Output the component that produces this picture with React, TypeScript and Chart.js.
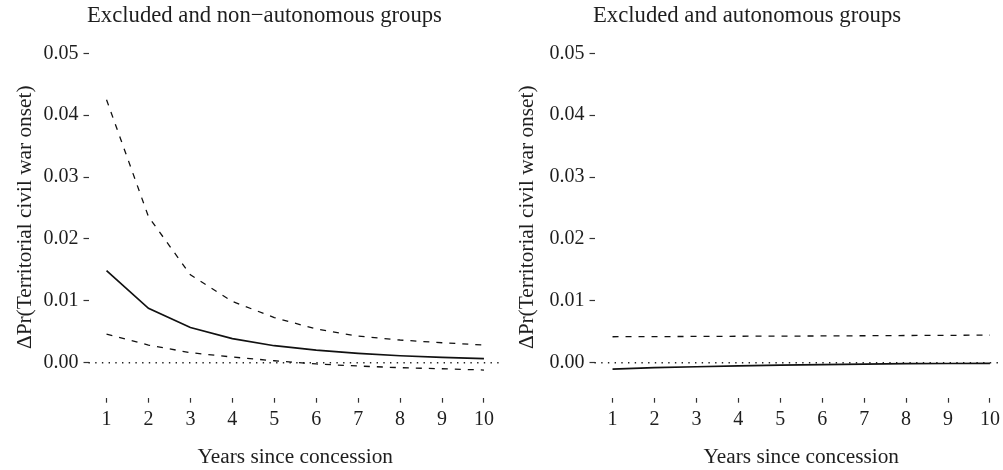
import React, { useEffect, useRef } from "react";
import { Chart, registerables } from "chart.js";

Chart.register(...registerables);

// ---- data ----
const YEARS = [1, 2, 3, 4, 5, 6, 7, 8, 9, 10];

const LEFT_TITLE = "Excluded and non\u2212autonomous groups";
const LEFT_EST = [0.0149, 0.0088, 0.0057, 0.0039, 0.00275, 0.00205, 0.00152, 0.00113, 0.00087, 0.00065];
const LEFT_UPPER = [0.0425, 0.0236, 0.0142, 0.0099, 0.0073, 0.00545, 0.0043, 0.00367, 0.00323, 0.00286];
const LEFT_LOWER = [0.00464, 0.00286, 0.00162, 0.00092, 0.00032, -0.0002, -0.00053, -0.0008, -0.00097, -0.00118];

const RIGHT_TITLE = "Excluded and autonomous groups";
const RIGHT_EST = [-0.00102, -0.0008, -0.00065, -0.0005, -0.0004, -0.0003, -0.00022, -0.00016, -0.00012, -0.0001];
const RIGHT_UPPER = [0.0042, 0.00422, 0.00425, 0.00428, 0.0043, 0.00433, 0.00436, 0.0044, 0.00443, 0.00446];

const Y_TICKS = [0, 0.01, 0.02, 0.03, 0.04, 0.05];
const Y_MIN = -0.00565;
const Y_MAX = 0.05265;
const X_MIN = 0.57;
const X_MAX = 10.43;
const ZERO_LINE = 0;

const Y_TITLE = "\u0394Pr(Territorial civil war onset)";
const X_TITLE = "Years since concession";

const FONT = "'Liberation Serif', 'DejaVu Serif', serif";
const TEXT = "#1e1e1e";
const TICK_SIZE = 20;
const AXIS_TITLE_SIZE = 21.3;
const PLOT_TITLE_SIZE = 22.7;

const toPts = (ys: number[]) => YEARS.map((x, i) => ({ x, y: ys[i] }));

const zeroLinePlugin = {
  id: "zeroLine",
  beforeDatasetsDraw(chart: any) {
    const { ctx, chartArea, scales } = chart;
    const y = scales.y.getPixelForValue(ZERO_LINE);
    ctx.save();
    ctx.strokeStyle = "#222";
    ctx.lineWidth = 1.4;
    ctx.setLineDash([1.4, 5.3]);
    ctx.beginPath();
    ctx.moveTo(chartArea.left, y);
    ctx.lineTo(chartArea.right, y);
    ctx.stroke();
    ctx.restore();
  },
};

const panelTitlePlugin = {
  id: "panelTitle",
  afterDraw(chart: any, _args: any, opts: any) {
    const { ctx, chartArea } = chart;
    ctx.save();
    ctx.font = `${PLOT_TITLE_SIZE}px ${FONT}`;
    ctx.fillStyle = TEXT;
    ctx.textAlign = "left";
    ctx.textBaseline = "middle";
    ctx.fillText(opts.text, chartArea.left - 1.5, opts.y);
    ctx.restore();
  },
};

type PanelProps = {
  title: string;
  series: { data: number[]; dashed: boolean }[];
  yTitlePad: number;
};

function Panel({ title, series, yTitlePad }: PanelProps) {
  const ref = useRef<HTMLCanvasElement | null>(null);
  useEffect(() => {
    if (!ref.current) return;
    const chart = new Chart(ref.current, {
      type: "line",
      data: {
        datasets: series.map((s) => ({
          data: toPts(s.data),
          borderColor: "#111",
          borderWidth: s.dashed ? 1.3 : 1.7,
          borderDash: s.dashed ? [6, 7] : [],
          pointRadius: 0,
          tension: 0,
          fill: false,
        })),
      },
      options: {
        responsive: false,
        animation: false,
        devicePixelRatio: 1,
        layout: { padding: { top: 36.9, left: 0, right: 0, bottom: 0 } },
        plugins: {
          legend: { display: false },
          tooltip: { enabled: false },
          title: { display: false },
          panelTitle: { text: title, y: 16 },
        } as any,
        scales: {
          x: {
            type: "linear",
            min: X_MIN,
            max: X_MAX,
            afterBuildTicks: (s: any) => {
              s.ticks = YEARS.map((v) => ({ value: v }));
            },
            afterFit: (s: any) => {
              s.height = 72.3;
            },
            ticks: {
              font: { family: FONT, size: TICK_SIZE },
              color: TEXT,
              padding: 5,
              maxRotation: 0,
              autoSkip: false,
              callback: (v: any) => String(v),
            },
            grid: {
              display: true,
              drawOnChartArea: false,
              drawTicks: true,
              tickLength: 5,
              tickColor: "#333",
              tickWidth: 1.2,
            },
            border: { display: false },
            title: {
              display: true,
              text: X_TITLE,
              font: { family: FONT, size: AXIS_TITLE_SIZE },
              color: TEXT,
              padding: { top: 0, bottom: 0.3 },
            },
          },
          y: {
            type: "linear",
            min: Y_MIN,
            max: Y_MAX,
            afterBuildTicks: (s: any) => {
              s.ticks = Y_TICKS.map((v) => ({ value: v }));
            },
            afterFit: (s: any) => {
              s.width = 88.5;
            },
            ticks: {
              font: { family: FONT, size: TICK_SIZE },
              color: TEXT,
              padding: 5,
              callback: (v: any) => Number(v).toFixed(2),
            },
            grid: {
              display: true,
              drawOnChartArea: false,
              drawTicks: true,
              tickLength: 5,
              tickColor: "#333",
              tickWidth: 1.2,
            },
            border: { display: false },
            title: {
              display: true,
              text: Y_TITLE,
              font: { family: FONT, size: AXIS_TITLE_SIZE },
              color: TEXT,
              padding: { top: yTitlePad, bottom: 0 },
            },
          },
        },
      },
      plugins: [zeroLinePlugin, panelTitlePlugin],
    });
    return () => chart.destroy();
  }, []);
  return (
    <canvas
      ref={ref}
      width={502}
      height={470}
      style={{ width: 502, height: 470, display: "block" }}
    />
  );
}

export default function App() {
  return (
    <div
      style={{
        position: "fixed",
        left: 0,
        top: 0,
        width: 1003,
        height: 470,
        overflow: "hidden",
        background: "#fff",
      }}
    >
      <div style={{ position: "absolute", left: 0, top: 0 }}>
        <Panel
          title={LEFT_TITLE}
          yTitlePad={12.2}
          series={[
            { data: LEFT_UPPER, dashed: true },
            { data: LEFT_EST, dashed: false },
            { data: LEFT_LOWER, dashed: true },
          ]}
        />
      </div>
      <div style={{ position: "absolute", left: 506, top: 0 }}>
        <Panel
          title={RIGHT_TITLE}
          yTitlePad={8.7}
          series={[
            { data: RIGHT_UPPER, dashed: true },
            { data: RIGHT_EST, dashed: false },
          ]}
        />
      </div>
    </div>
  );
}
